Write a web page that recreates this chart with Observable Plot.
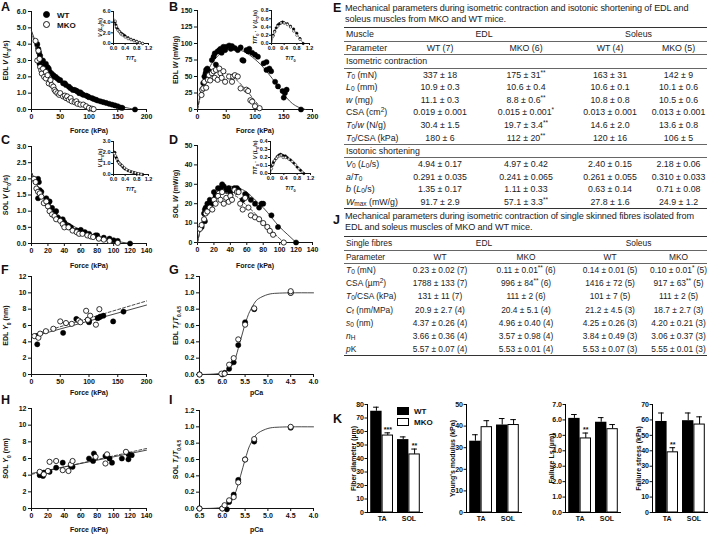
<!DOCTYPE html>
<html><head><meta charset="utf-8">
<script src="https://cdn.jsdelivr.net/npm/d3@7"></script>
<script src="https://cdn.jsdelivr.net/npm/@observablehq/plot@0.6"></script>
<style>
body{margin:0;background:#fff;}
#fig{position:relative;width:709px;height:534px;overflow:hidden;font-family:"Liberation Sans",Arial,sans-serif;color:#111;background:#fff;}
.plbl{position:absolute;font-size:12.5px;font-weight:bold;line-height:12px;}
.ttl{position:absolute;left:345px;width:364px;font-size:9.1px;line-height:11px;color:#222;white-space:nowrap;letter-spacing:-0.1px;}
.tbl{position:absolute;left:344px;width:363px;font-size:8.8px;color:#222;}
.tbl.j{font-size:8.4px;}
.tbl table{border-collapse:collapse;width:100%;table-layout:fixed;}
.tbl td{padding:0;text-align:center;white-space:nowrap;vertical-align:middle;}
.tbl td.p{text-align:left;padding-left:2px;}
.tbl tr.top td{border-top:1.6px solid #333;}
.tbl tr.rb td{border-bottom:0.8px solid #666;}
.tbl tr.bot td{border-bottom:1.6px solid #333;}
.tbl sup{font-size:6.5px;vertical-align:3px;line-height:0;}
.tbl sub{font-size:6.5px;vertical-align:-1px;line-height:0;}
.leg{position:absolute;font-size:8px;font-weight:bold;line-height:9px;}
</style></head>
<body><div id="fig"></div>
<script>
// ---------------- DATA ----------------
// Panel A: EDL force (kPa) vs velocity (L0/s)
const edlV_WT = [[10,4.0],[12,3.7],[13,3.5],[15,3.3],[14,2.8],[17,3.0],[20,3.0],[22,2.7],[25,2.8],[28,2.6],[30,2.5],[32,2.3],[35,2.2],[38,2.1],[40,2.0],[42,2.0],[45,1.9],[48,1.8],[50,1.8],[55,1.6],[58,1.6],[60,1.5],[65,1.4],[68,1.3],[72,1.2],[75,1.2],[78,1.15],[80,1.1],[83,1.0],[85,1.05],[88,0.95],[90,0.9],[95,0.85],[98,0.8],[100,0.75],[105,0.7],[108,0.65],[112,0.6],[115,0.55],[120,0.5],[125,0.45],[130,0.4],[135,0.35],[140,0.3],[145,0.25],[150,0.2],[155,0.12],[158,0.1],[180,0.0]];
const edlV_MKO = [[7,4.2],[10,3.0],[12,3.6],[14,3.1],[15,2.6],[17,2.4],[18,2.2],[20,2.5],[22,2.0],[25,2.3],[25,1.9],[28,2.1],[30,1.6],[33,1.8],[35,1.5],[38,1.4],[40,1.2],[42,1.1],[45,1.0],[48,0.9],[50,1.0],[55,0.8],[58,0.85],[60,0.7],[62,0.8],[65,0.6],[68,0.7],[70,0.5],[75,0.45],[78,0.5],[80,0.35],[85,0.3],[90,0.3],[95,0.2],[100,0.1],[105,0.05],[108,0.02]];
const edlV_fitWT = [[0,4.8],[10,3.9],[20,3.1],[30,2.55],[40,2.1],[50,1.8],[60,1.5],[80,1.1],[100,0.8],[120,0.55],[140,0.32],[160,0.15],[180,0]];
const edlV_fitMKO = [[0,4.8],[10,3.4],[20,2.4],[30,1.8],[40,1.3],[50,1.0],[60,0.75],[70,0.55],[80,0.38],[90,0.24],[100,0.12],[110,0]];
const edlVn_WT = [[0.05,4.0],[0.08,3.5],[0.1,3.0],[0.15,2.7],[0.2,2.3],[0.25,2.0],[0.3,1.8],[0.35,1.6],[0.4,1.4],[0.5,1.1],[0.6,0.8],[0.7,0.6],[0.8,0.4],[0.9,0.2],[1.0,0]];
const edlVn_MKO = [[0.06,4.2],[0.1,3.2],[0.15,2.5],[0.2,2.2],[0.25,1.8],[0.3,1.6],[0.4,1.2],[0.5,0.9],[0.6,0.7],[0.7,0.5],[0.8,0.35],[0.9,0.15],[1.0,0.02]];
const edlVn_fit = [[0,4.9],[0.1,3.2],[0.2,2.3],[0.3,1.7],[0.4,1.3],[0.6,0.75],[0.8,0.35],[1.0,0]];
// Panel B: EDL power (mW/g)
const edlW_WT = [[10,40],[12,50],[14,55],[15,60],[17,62],[20,58],[25,75],[28,80],[30,85],[32,68],[35,88],[38,90],[40,92],[42,86],[45,95],[48,90],[50,95],[55,97],[58,92],[60,96],[65,93],[70,90],[75,94],[78,75],[80,74],[85,90],[88,88],[90,92],[95,86],[100,83],[105,80],[115,70],[120,60],[120,72],[125,62],[128,58],[135,42],[140,35],[148,28],[150,18],[152,25],[155,30],[180,0]];
const edlW_MKO = [[7,22],[8,30],[10,32],[12,42],[15,33],[18,45],[20,52],[22,44],[25,55],[28,58],[30,48],[32,60],[35,45],[38,62],[40,55],[42,48],[45,58],[48,42],[55,50],[60,42],[62,50],[65,52],[70,50],[75,32],[85,30],[88,28],[92,14],[95,12],[100,5],[108,2]];
const edlW_fitWT = [[0,0],[5,24],[10,40],[20,62],[30,76],[40,85],[50,90],[60,92],[70,91],[80,88],[90,83],[100,76],[110,68],[120,58],[130,47],[140,35],[150,23],[160,13],[170,6],[180,2],[188,0]];
const edlW_fitMKO = [[0,0],[5,20],[10,33],[20,48],[30,55],[40,57],[50,55],[60,50],[70,43],[80,34],[90,24],[100,13],[110,3],[113,0]];
const edlWn_WT = [[0.05,0.2],[0.1,0.3],[0.15,0.38],[0.2,0.45],[0.25,0.48],[0.3,0.5],[0.35,0.52],[0.4,0.5],[0.5,0.48],[0.6,0.42],[0.7,0.35],[0.8,0.25],[0.9,0.12],[1.0,0.0]];
const edlWn_MKO = [[0.05,0.18],[0.1,0.28],[0.2,0.42],[0.3,0.5],[0.4,0.5],[0.5,0.46],[0.6,0.4],[0.7,0.3],[0.8,0.2],[0.9,0.1]];
const edlWn_fit = [[0,0],[0.1,0.3],[0.2,0.44],[0.3,0.5],[0.4,0.51],[0.5,0.48],[0.6,0.42],[0.7,0.33],[0.8,0.23],[0.9,0.12],[1.0,0]];
// Panel C: SOL velocity
const solV_WT = [[8,2.0],[9,1.9],[8,1.4],[10,1.65],[12,1.6],[18,1.4],[20,1.2],[22,1.3],[25,1.1],[28,0.95],[30,1.0],[32,0.8],[38,0.75],[40,0.65],[45,0.55],[48,0.5],[55,0.4],[60,0.42],[65,0.35],[70,0.3],[78,0.25],[80,0.25],[88,0.18],[95,0.15],[100,0.1],[105,0.08],[120,0.0]];
const solV_MKO = [[3,2.0],[5,1.9],[6,1.7],[8,1.6],[10,1.55],[12,1.45],[15,1.25],[18,1.3],[20,1.15],[22,1.0],[25,0.9],[28,0.85],[30,0.75],[35,0.7],[38,0.6],[40,0.5],[45,0.5],[50,0.4],[55,0.35],[58,0.3],[62,0.3],[68,0.25],[72,0.22],[75,0.2],[82,0.15],[88,0.12],[95,0.08],[105,0.02]];
const solV_fitWT = [[0,2.2],[10,1.65],[20,1.25],[30,0.95],[40,0.72],[50,0.55],[60,0.42],[70,0.31],[80,0.22],[90,0.15],[100,0.09],[110,0.04],[120,0]];
const solV_fitMKO = [[0,2.2],[10,1.6],[20,1.18],[30,0.88],[40,0.65],[50,0.48],[60,0.35],[70,0.25],[80,0.16],[90,0.1],[100,0.04],[106,0]];
const solVn_WT = [[0.05,2.0],[0.08,1.6],[0.1,1.5],[0.15,1.2],[0.2,1.0],[0.25,0.9],[0.3,0.75],[0.35,0.6],[0.4,0.5],[0.5,0.35],[0.6,0.25],[0.7,0.18],[0.8,0.1],[0.9,0.05],[1.0,0]];
const solVn_MKO = [[0.03,1.9],[0.07,1.7],[0.12,1.4],[0.18,1.1],[0.22,0.95],[0.3,0.8],[0.38,0.6],[0.45,0.45],[0.55,0.32],[0.65,0.22],[0.75,0.15],[0.85,0.08],[0.95,0.02]];
const solVn_fit = [[0,2.3],[0.1,1.55],[0.2,1.1],[0.3,0.8],[0.4,0.57],[0.5,0.4],[0.6,0.27],[0.7,0.17],[0.8,0.1],[0.9,0.04],[1.0,0]];
// Panel D: SOL power
const solW_WT = [[5,8],[8,15],[9,11],[9,17],[10,18],[12,20],[13,17],[15,22],[18,20],[20,26],[22,24],[25,28],[28,28],[30,30],[32,29],[35,27],[38,28],[40,26],[45,28],[48,28],[50,27],[55,22],[58,25],[60,24],[65,22],[70,20],[75,18],[78,20],[80,20],[90,14],[98,8],[120,0]];
const solW_MKO = [[3,7],[5,9],[8,12],[10,15],[12,16],[15,18],[18,17],[20,22],[22,20],[25,24],[28,22],[30,26],[32,20],[35,23],[38,21],[40,24],[42,22],[45,27],[48,26],[50,26],[52,20],[55,17],[58,23],[62,18],[65,14],[70,13],[75,12],[80,10],[85,8],[88,6],[92,4],[105,0]];
const solW_fitWT = [[0,0],[5,10],[10,16],[20,24],[30,28],[40,29],[50,28],[60,26],[70,22],[80,18],[90,13],[100,8],[110,4],[120,0]];
const solW_fitMKO = [[0,0],[5,9],[10,15],[20,22],[30,25],[40,25],[50,23],[60,19],[70,15],[80,10],[90,6],[100,2],[106,0]];
const solWn_WT = [[0.05,0.1],[0.08,0.13],[0.1,0.15],[0.15,0.18],[0.2,0.21],[0.25,0.23],[0.3,0.24],[0.35,0.23],[0.4,0.22],[0.45,0.22],[0.5,0.2],[0.6,0.17],[0.7,0.13],[0.8,0.08],[0.9,0.04],[1.0,0]];
const solWn_MKO = [[0.03,0.06],[0.07,0.11],[0.12,0.16],[0.18,0.19],[0.22,0.21],[0.28,0.22],[0.32,0.23],[0.38,0.2],[0.45,0.2],[0.55,0.18],[0.65,0.15],[0.75,0.11],[0.85,0.06],[0.95,0.02]];
const solWn_fit = [[0,0],[0.05,0.1],[0.1,0.15],[0.2,0.21],[0.3,0.235],[0.4,0.23],[0.5,0.2],[0.6,0.165],[0.7,0.12],[0.8,0.08],[0.9,0.04],[1.0,0]];
// Panel F: EDL Y0 (nm) vs force
const edlY_WT = [[10,3.7],[8,4.7],[55,5.1],[78,6.8],[98,6.7],[100,6.4],[100,6.6],[115,6.9],[118,7.0],[120,7.1],[125,7.2],[142,6.5],[160,7.7]];
const edlY_MKO = [[5,4.7],[12,4.5],[15,5.0],[25,5.3],[38,5.6],[50,6.5],[60,6.3],[70,6.2],[82,6.6],[85,6.4],[95,7.8],[98,6.7],[102,7.2],[112,6.1],[118,8.0]];
const edlY_fitWT = [[0,4.6],[200,8.5]];
const edlY_fitMKO = [[0,4.8],[200,9.0]];
// Panel G: EDL pCa-tension
const edlP_WT = [[6.5,0],[6.0,0],[5.95,0.02],[5.85,0.07],[5.75,0.15],[5.65,0.36],[5.5,0.64],[5.3,0.8],[4.5,1.0]];
const edlP_MKO = [[6.5,0],[6.02,0.01],[5.95,0.01],[5.85,0.12],[5.75,0.2],[5.65,0.43],[5.5,0.61],[5.3,0.81],[4.5,1.0],[4.5,1.02]];
const edlP_fit = [[6.5,0],[6.2,0.005],[6.0,0.02],[5.9,0.05],[5.8,0.1],[5.75,0.15],[5.7,0.22],[5.65,0.32],[5.6,0.42],[5.55,0.52],[5.5,0.62],[5.45,0.7],[5.4,0.77],[5.3,0.87],[5.2,0.93],[5.0,0.98],[4.8,0.995],[4.5,1.0],[4.0,1.0]];
// Panel H: SOL Y0
const solY_WT = [[10,4.0],[14,3.9],[15,4.3],[22,4.4],[30,4.9],[38,5.5],[48,5.1],[50,5.0],[70,6.0],[75,5.7],[76,6.6],[90,6.3],[95,6.0],[98,5.5],[110,6.0],[118,5.9],[118,6.5],[122,6.4]];
const solY_MKO = [[10,4.4],[15,4.1],[20,4.5],[22,5.6],[30,5.7],[38,4.6],[45,4.5],[48,5.3],[50,5.7],[78,6.2],[90,5.4],[92,6.5],[115,6.8]];
const solY_fitWT = [[0,4.2],[140,7.0]];
const solY_fitMKO = [[0,4.1],[140,7.2]];
// Panel I: SOL pCa-tension
const solP_WT = [[6.5,0],[6.0,0],[5.9,-0.01],[5.85,0.08],[5.75,0.17],[5.65,0.35],[5.5,0.6],[5.3,0.82],[4.5,0.99]];
const solP_MKO = [[6.5,0],[6.0,0],[5.95,0.04],[5.85,0.1],[5.75,0.14],[5.65,0.32],[5.5,0.6],[5.3,0.85],[4.5,1.0]];
const solP_fit = [[6.5,0],[6.2,0.003],[6.0,0.015],[5.9,0.04],[5.8,0.09],[5.75,0.14],[5.7,0.21],[5.65,0.3],[5.6,0.4],[5.55,0.5],[5.5,0.6],[5.45,0.69],[5.4,0.77],[5.3,0.87],[5.2,0.93],[5.0,0.98],[4.8,0.995],[4.5,1.0],[4.0,1.0]];
// Panel K bars
const kGroups = ["TA","SOL"];
const fiberWT = [75,54], fiberWTse = [3,2], fiberMKO = [57,43], fiberMKOse = [2,4], fiberSig = ["***","**"];
const youngWT = [33,40.5], youngWTse = [3,3], youngMKO = [39.5,40.5], youngMKOse = [3,2.5], youngSig = ["",""];
const lsWT = [6.1,5.85], lsWTse = [0.25,0.3], lsMKO = [4.8,5.4], lsMKOse = [0.35,0.3], lsSig = ["**",""];
const stressWT = [59,59.5], stressWTse = [5.5,5], stressMKO = [39,57], stressMKOse = [3,5], stressSig = ["**",""];
// Table E
const eTitle = ["Mechanical parameters during isometric contraction and isotonic shortening of EDL and","soleus muscles from MKO and WT mice."];
const eMuscles = ["EDL","Soleus"];
const eCols = ["WT (7)","MKO (6)","WT (4)","MKO (5)"];
const eSection1 = "Isometric contraction";
const eParams1 = ["<i>T</i><sub>0</sub> (mN)","<i>L</i><sub>0</sub> (mm)","<i>w</i> (mg)","CSA (cm<sup>2</sup>)","<i>T</i><sub>0</sub>/<i>w</i> (N/g)","<i>T</i><sub>0</sub>/CSA (kPa)"];
const eValues1 = [["337 ± 18","175 ± 31**","163 ± 31","142 ± 9"],["10.9 ± 0.3","10.6 ± 0.4","10.6 ± 0.1","10.1 ± 0.6"],["11.1 ± 0.3","8.8 ± 0.6**","10.8 ± 0.8","10.5 ± 0.6"],["0.019 ± 0.001","0.015 ± 0.001*","0.013 ± 0.001","0.013 ± 0.001"],["30.4 ± 1.5","19.7 ± 3.4**","14.6 ± 2.0","13.6 ± 0.8"],["180 ± 6","112 ± 20**","120 ± 16","106 ± 5"]];
const eSection2 = "Isotonic shortening";
const eParams2 = ["<i>V</i><sub>0</sub> (<i>L</i><sub>0</sub>/s)","<i>a</i>/<i>T</i><sub>0</sub>","<i>b</i> (<i>L</i><sub>0</sub>/s)","<i>W</i><sub>max</sub> (mW/g)"];
const eValues2 = [["4.94 ± 0.17","4.97 ± 0.42","2.40 ± 0.15","2.18 ± 0.06"],["0.291 ± 0.035","0.241 ± 0.065","0.261 ± 0.055","0.310 ± 0.033"],["1.35 ± 0.17","1.11 ± 0.33","0.63 ± 0.14","0.71 ± 0.08"],["91.7 ± 2.9","57.1 ± 3.3**","27.8 ± 1.6","24.9 ± 1.2"]];
// Table J
const jTitle = ["Mechanical parameters during isometric contraction of single skinned fibres isolated from","EDL and soleus muscles of MKO and WT mice."];
const jCols = ["WT","MKO","WT","MKO"];
const jParams = ["<i>T</i><sub>0</sub> (mN)","CSA (µm<sup>2</sup>)","<i>T</i><sub>0</sub>/CSA (kPa)","<i>C</i><sub>f</sub> (nm/MPa)","<i>s</i><sub>0</sub> (nm)","<i>n</i><sub>H</sub>","<i>p</i>K"];
const jValues = [["0.23 ± 0.02 (7)","0.11 ± 0.01** (6)","0.14 ± 0.01 (5)","0.10 ± 0.01* (5)"],["1788 ± 133 (7)","996 ± 84** (6)","1416 ± 72 (5)","917 ± 63** (5)"],["131 ± 11 (7)","111 ± 2 (6)","101 ± 7 (5)","111 ± 2 (5)"],["20.9 ± 2.7 (4)","20.4 ± 5.1 (4)","21.2 ± 4.5 (3)","18.7 ± 2.7 (3)"],["4.37 ± 0.26 (4)","4.96 ± 0.40 (4)","4.25 ± 0.26 (3)","4.20 ± 0.21 (3)"],["3.66 ± 0.36 (4)","3.57 ± 0.98 (4)","3.84 ± 0.49 (3)","3.06 ± 0.37 (3)"],["5.57 ± 0.07 (4)","5.53 ± 0.01 (4)","5.53 ± 0.07 (3)","5.55 ± 0.01 (3)"]];

// ---------------- RENDER ----------------
const FONT = "'Liberation Sans', Arial, sans-serif";
const NS = "http://www.w3.org/2000/svg";
const fig = document.getElementById("fig");
function put(node, left, top){ node.style.position="absolute"; node.style.left=left+"px"; node.style.top=top+"px"; fig.appendChild(node); return node; }
function setRich(svg, which, markup){
  const t = svg.querySelector(`g[aria-label="${which}"] text`);
  if(!t) return;
  t.textContent = "";
  const re = /\{([is]):([^}]*)\}|([^{]+)/g; let m;
  while((m = re.exec(markup))){
    const ts = document.createElementNS(NS,"tspan");
    if(m[3]!==undefined){ ts.textContent = m[3]; }
    else { ts.textContent = m[2];
      if(m[1]==="i") ts.setAttribute("font-style","italic");
      else { ts.setAttribute("baseline-shift","sub"); ts.setAttribute("font-size","70%"); } }
    t.appendChild(ts);
  }
}
const X = d=>d[0], Y = d=>d[1];
function xyPanel(o){
  const fs = o.fs || 7;
  const marks = [ Plot.ruleX([o.xd[0]], {stroke:"#111", strokeWidth:1}), Plot.ruleY([o.yd[0]], {stroke:"#111", strokeWidth:1}) ];
  if(o.fitW) marks.push(Plot.line(o.fitW, {x:X, y:Y, curve:o.curve||"natural", stroke:"#333", strokeWidth:o.lw||0.9}));
  if(o.fitM) marks.push(Plot.line(o.fitM, {x:X, y:Y, curve:o.curve||"natural", stroke:"#333", strokeWidth:o.lw||0.9, strokeDasharray:o.dash||"3,2"}));
  marks.push(Plot.dot(o.wt, {x:X, y:Y, r:o.r, fill:"#000", stroke:"#000", strokeWidth:0.5}));
  marks.push(Plot.dot(o.mko, {x:X, y:Y, r:o.r, fill:"#fff", stroke:"#000", strokeWidth:o.sw||0.8}));
  const svg = Plot.plot({
    width:o.w, height:o.h, marginLeft:o.ml, marginRight:o.mr, marginTop:o.mt, marginBottom:o.mb,
    style:{fontFamily:FONT, fontSize:fs+"px", fontWeight:"bold", color:"#111", background:"transparent", overflow:"visible"},
    x:{domain:o.xd, reverse:!!o.rev, ticks:o.xt, tickFormat:o.xf, label:"x", labelAnchor:"center", labelArrow:"none", tickSize:o.ts||3, tickPadding:o.tp||2, labelOffset:o.xlo},
    y:{domain:o.yd, ticks:o.yt, tickFormat:o.yf, label:"y", labelAnchor:"center", labelArrow:"none", tickSize:o.ts||3, tickPadding:o.tp||2, labelOffset:o.ylo},
    marks
  });
  setRich(svg, "x-axis label", o.xl);
  setRich(svg, "y-axis label", o.yl);
  put(svg, o.left, o.top);
}
const f1 = d3.format(".1f");
// A
xyPanel({left:0,top:0,w:165,h:135,ml:31,mr:19,mt:11,mb:26,xd:[0,200],yd:[0,6],xt:[0,50,100,150,200],yt:[0,1,2,3,4,5,6],yf:f1,
  wt:edlV_WT,mko:edlV_MKO,fitW:edlV_fitWT,fitM:edlV_fitMKO,r:2.6,xl:"Force (kPa)",yl:"EDL {i:V} ({i:L}{s:0}/s)"});
xyPanel({left:95,top:0,w:60,h:60,ml:18,mr:7,mt:11,mb:17,xlo:16,fs:5.5,r:1.2,sw:0.5,ts:2,tp:1,lw:0.6,xd:[0,1.2],yd:[0,6],xt:[0,0.4,0.8,1.2],xf:f1,yt:[0,2,4,6],
  wt:edlVn_WT,mko:edlVn_MKO,fitW:edlVn_fit,xl:"{i:T}/{i:T}{s:0}",yl:"{i:V} ({i:L}{s:0}/s)"});
// B
xyPanel({left:170,top:0,w:150,h:135,ml:27,mr:8,mt:10,mb:26,xd:[0,200],yd:[0,150],xt:[0,50,100,150,200],yt:[0,25,50,75,100,125,150],
  wt:edlW_WT,mko:edlW_MKO,fitW:edlW_fitWT,fitM:edlW_fitMKO,r:2.6,xl:"Force (kPa)",yl:"EDL {i:W} (mW/g)"});
xyPanel({left:250,top:0,w:65,h:60,ml:21,mr:6,mt:10,mb:17,xlo:16,fs:5.5,r:1.2,sw:0.5,ts:2,tp:1,lw:0.6,xd:[0,1.2],yd:[0,0.8],xt:[0,0.4,0.8,1.2],xf:f1,yt:[0,0.2,0.4,0.6,0.8],yf:f1,
  wt:edlWn_WT,mko:edlWn_MKO,fitW:edlWn_fit,xl:"{i:T}/{i:T}{s:0}",yl:"{i:T}/{i:T}{s:0} · {i:V} ({i:L}{s:0}/s)"});
// C
xyPanel({left:0,top:135,w:165,h:135,ml:31,mr:19,mt:11,mb:27,xd:[0,140],yd:[0,3],xt:[0,20,40,60,80,100,120,140],yt:[0,0.5,1,1.5,2,2.5,3],yf:f1,
  wt:solV_WT,mko:solV_MKO,fitW:solV_fitWT,fitM:solV_fitMKO,r:2.6,xl:"Force (kPa)",yl:"SOL {i:V} ({i:L}{s:0}/s)"});
xyPanel({left:95,top:130,w:60,h:61,ml:18,mr:7,mt:11,mb:17,xlo:16,fs:5.5,r:1.2,sw:0.5,ts:2,tp:1,lw:0.6,xd:[0,1.2],yd:[0,3],xt:[0,0.4,0.8,1.2],xf:f1,yt:[0,1,2,3],
  wt:solVn_WT,mko:solVn_MKO,fitW:solVn_fit,xl:"{i:T}/{i:T}{s:0}",yl:"{i:V} ({i:L}{s:0}/s)"});
// D
xyPanel({left:170,top:135,w:150,h:135,ml:27,mr:8,mt:10,mb:28,xd:[0,140],yd:[0,50],xt:[0,20,40,60,80,100,120,140],yt:[0,10,20,30,40,50],
  wt:solW_WT,mko:solW_MKO,fitW:solW_fitWT,fitM:solW_fitMKO,r:2.6,xl:"Force (kPa)",yl:"SOL {i:W} (mW/g)"});
xyPanel({left:250,top:131,w:65,h:59,ml:20,mr:5,mt:10,mb:17,xlo:16,fs:5.5,r:1.2,sw:0.5,ts:2,tp:1,lw:0.6,xd:[0,1.2],yd:[0,0.4],xt:[0,0.4,0.8,1.2],xf:f1,yt:[0,0.1,0.2,0.3,0.4],yf:f1,
  wt:solWn_WT,mko:solWn_MKO,fitW:solWn_fit,xl:"{i:T}/{i:T}{s:0}",yl:"{i:T}/{i:T}{s:0} · {i:V} ({i:L}{s:0}/s)"});
// F
xyPanel({left:0,top:265,w:165,h:132,ml:31,mr:19,mt:11,mb:23,xd:[0,200],yd:[0,12],xt:[0,50,100,150,200],yt:[0,2,4,6,8,10,12],
  wt:edlY_WT,mko:edlY_MKO,fitW:edlY_fitWT,fitM:edlY_fitMKO,curve:"linear",r:2.6,xl:"Force (kPa)",yl:"EDL {i:Y}{s:0} (nm)"});
// G
xyPanel({left:170,top:265,w:150,h:132,ml:29,mr:7,mt:11,mb:23,xd:[6.5,4.0],yd:[0,1.2],xt:[6.5,6,5.5,5,4.5,4],xf:f1,yt:[0,0.2,0.4,0.6,0.8,1,1.2],yf:f1,
  wt:edlP_WT,mko:edlP_MKO,fitW:edlP_fit,r:2.6,xl:"pCa",yl:"EDL {i:T}{s:f}/{i:T}{s:0.4.5}"});
// H
xyPanel({left:0,top:395,w:165,h:139,ml:31,mr:19,mt:13,mb:26,xd:[0,140],yd:[0,12],xt:[0,20,40,60,80,100,120,140],yt:[0,2,4,6,8,10,12],
  wt:solY_WT,mko:solY_MKO,fitW:solY_fitWT,fitM:solY_fitMKO,curve:"linear",r:2.6,xl:"Force (kPa)",yl:"SOL {i:Y}{s:0} (nm)"});
// I
xyPanel({left:170,top:395,w:150,h:139,ml:29,mr:7,mt:15,mb:26,xd:[6.5,4.0],yd:[0,1.2],xt:[6.5,6,5.5,5,4.5,4],xf:f1,yt:[0,0.2,0.4,0.6,0.8,1,1.2],yf:f1,
  wt:solP_WT,mko:solP_MKO,fitW:solP_fit,r:2.6,xl:"pCa",yl:"SOL {i:T}{s:f}/{i:T}{s:0.4.5}"});

// K bar charts
function barPanel(o){
  const rows = kGroups.map((g,i)=>({g, wt:o.wt[i], wse:o.wse[i], mko:o.mko[i], mse:o.mse[i], sig:o.sig[i]}));
  const ml=19, mr=3, pw=o.pw||56, pi=0.15, po=0.12;
  const step = pw/(kGroups.length - pi + 2*po), bw = step*(1-pi);
  const cap = 2.8;
  const svg = Plot.plot({
    width:ml+pw+mr, height:o.h, marginLeft:ml, marginRight:mr, marginTop:o.mt, marginBottom:o.mb,
    style:{fontFamily:FONT, fontSize:"7px", fontWeight:"bold", color:"#111", background:"transparent", overflow:"visible"},
    x:{domain:kGroups, paddingInner:pi, paddingOuter:po, round:false, label:null, tickSize:0, tickPadding:4},
    y:{domain:o.yd, ticks:o.yt, label:"y", labelAnchor:"center", labelArrow:"none", tickSize:2.5, tickPadding:1},
    marks:[
      Plot.ruleX(rows, {x:"g", y1:"wt", y2:d=>d.wt+d.wse, dx:-bw/4, stroke:"#000", strokeWidth:1}),
      Plot.tickY(rows, {x:"g", y:d=>d.wt+d.wse, insetLeft:bw/4-cap, insetRight:3*bw/4-cap, stroke:"#000", strokeWidth:1}),
      Plot.ruleX(rows, {x:"g", y1:"mko", y2:d=>d.mko+d.mse, dx:bw/4, stroke:"#000", strokeWidth:1}),
      Plot.tickY(rows, {x:"g", y:d=>d.mko+d.mse, insetLeft:3*bw/4-cap, insetRight:bw/4-cap, stroke:"#000", strokeWidth:1}),
      Plot.barY(rows, {x:"g", y:"wt", fill:"#000", insetRight:bw/2}),
      Plot.barY(rows, {x:"g", y:"mko", fill:"#fff", stroke:"#000", strokeWidth:1, insetLeft:bw/2+0.5, insetRight:0.5}),
      Plot.text(rows.filter(d=>d.sig), {x:"g", y:d=>d.mko+d.mse, text:"sig", dx:bw/4, dy:-3, fontSize:7, fontWeight:"bold"}),
      Plot.ruleY([0], {stroke:"#000", strokeWidth:1}),
      Plot.frame({anchor:"left", stroke:"#000", strokeWidth:1})
    ]
  });
  setRich(svg, "y-axis label", o.yl);
  put(svg, o.left-ml, o.top);
}
const kTop=398, kH=136, kMt=6, kMb=22;
barPanel({left:367,top:kTop,h:kH,mt:kMt,mb:kMb,yd:[0,80],yt:[0,10,20,30,40,50,60,70,80],wt:fiberWT,wse:fiberWTse,mko:fiberMKO,mse:fiberMKOse,sig:fiberSig,yl:"Fiber diameter (µm)"});
barPanel({left:466,top:kTop,h:kH,mt:kMt,mb:kMb,yd:[0,50],yt:[0,10,20,30,40,50],wt:youngWT,wse:youngWTse,mko:youngMKO,mse:youngMKOse,sig:youngSig,yl:"Young's modulus (kPa)"});
barPanel({left:565,top:kTop,h:kH,mt:kMt,mb:kMb,yd:[0,7],yt:[0,1,2,3,4,5,6,7],wt:lsWT,wse:lsWTse,mko:lsMKO,mse:lsMKOse,sig:lsSig,yl:"Failure Ls (µm)"});
barPanel({left:652,top:kTop,h:kH,mt:kMt,mb:kMb,yd:[0,70],yt:[0,10,20,30,40,50,60,70],wt:stressWT,wse:stressWTse,mko:stressMKO,mse:stressMKOse,sig:stressSig,yl:"Failure stress (kPa)"});

// Legends (HTML)
function legend(left, top, items, shape){
  const d = document.createElement("div"); d.className="leg";
  d.innerHTML = items.map((it,i)=>{
    const sym = shape==="circle"
      ? `<svg width="9" height="9" style="vertical-align:-1px"><circle cx="4.5" cy="4.5" r="3" fill="${it.fill}" stroke="#000" stroke-width="0.9"/></svg>`
      : `<svg width="12" height="8" style="vertical-align:-1px"><rect x="0.5" y="0.5" width="11" height="7" fill="${it.fill}" stroke="#000" stroke-width="1"/></svg>`;
    return `<div style="height:${shape==="circle"?9.5:10.5}px;white-space:nowrap">${sym}<span style="margin-left:${shape==="circle"?6:5}px">${it.label}</span></div>`;
  }).join("");
  put(d, left, top);
}
legend(42, 10, [{fill:"#000",label:"WT"},{fill:"#fff",label:"MKO"}], "circle");
legend(397, 407, [{fill:"#000",label:"WT"},{fill:"#fff",label:"MKO"}], "square");

// Panel letters
[["A",1,1],["B",169,1],["C",1,134],["D",169,134],["F",1,264],["G",169,264],["H",1,394],["I",169,394],["E",333,2],["J",333,214],["K",333,413]].forEach(([t,x,y])=>{
  const d=document.createElement("div"); d.className="plbl"; d.textContent=t; put(d,x,y);
});

// Tables
const star = s => s.replace(/(\*+)/, "<sup>$1</sup>");
function title(lines, top){ const d=document.createElement("div"); d.className="ttl"; d.innerHTML=lines.join("<br>"); d.style.top=top+"px"; fig.appendChild(d); }
const colW = [54,84,88,80,57];
function table(top, cls, head1, muscles, cols, sections, rowH, headH){
  const d=document.createElement("div"); d.className="tbl "+cls; d.style.top=top+"px";
  let h = `<table><colgroup>${colW.map(w=>`<col style="width:${w}px">`).join("")}</colgroup>`;
  h += `<tr class="top rb" style="height:${headH}px"><td class="p">${head1}</td><td colspan="2">${muscles[0]}</td><td colspan="2">${muscles[1]}</td></tr>`;
  h += `<tr class="rb" style="height:${headH}px"><td class="p">Parameter</td>${cols.map(c=>`<td>${c}</td>`).join("")}</tr>`;
  sections.forEach((s,si)=>{
    if(s.name) h += `<tr class="rb" style="height:${headH}px"><td class="p" colspan="5">${s.name}</td></tr>`;
    s.params.forEach((p,i)=>{
      const last = i===s.params.length-1;
      const c = last ? (si===sections.length-1 ? "bot" : "rb") : "";
      h += `<tr class="${c}" style="height:${rowH}px"><td class="p">${p}</td>${s.values[i].map(v=>`<td>${star(v)}</td>`).join("")}</tr>`;
    });
  });
  h += "</table>"; d.innerHTML=h; fig.appendChild(d);
}
title(eTitle, 3);
table(27, "e", "Muscle", eMuscles, eCols, [{name:eSection1, params:eParams1, values:eValues1},{name:eSection2, params:eParams2, values:eValues2}], 12.7, 13.5);
title(jTitle, 211);
table(236, "j", "Single fibres", eMuscles, jCols, [{name:null, params:jParams, values:jValues}], 13.2, 13.5);
</script></body></html>
